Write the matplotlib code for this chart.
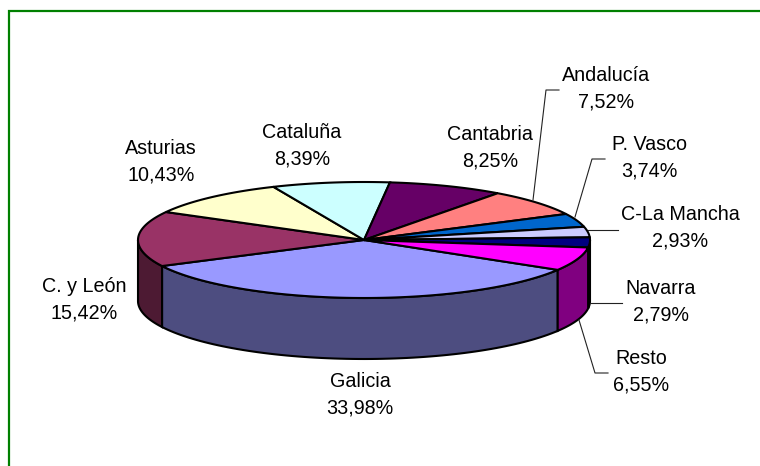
import numpy as np
import matplotlib
matplotlib.use('Agg')
import matplotlib.pyplot as plt

plt.rcParams['font.family'] = ['Liberation Sans', 'DejaVu Sans']

# clockwise order starting at galicia
names = ['Galicia', 'C. y León', 'Asturias', 'Cataluña', 'Cantabria', 'Andalucía',
         'P. Vasco', 'C-La Mancha', 'Navarra', 'Resto']
values = [33.98, 15.42, 10.43, 8.39, 8.25, 7.52, 3.74, 2.93, 2.79, 6.55]
top_colors = ['#9999FF', '#993366', '#FFFFCC', '#CCFFFF', '#660066', '#FF8080',
              '#0066CC', '#CCCCFF', '#000080', '#FF00FF']
side_colors = ['#4D4D80', '#4D1A33', '#808066', '#668080', '#330033', '#804040',
               '#003366', '#666680', '#000040', '#800080']
label_xy = [(360, 394.5), (84, 299.5), (161, 162), (302, 146), (490, 148), (606, 89),
            (649, 158), (680, 228), (661, 302), (641, 372)]
leaders = {
    'Andalucía': ([533, 546, 559], [200, 90, 90]),
    'P. Vasco': ([575, 592, 605], [217, 159, 159]),
    'C-La Mancha': ([588, 618], [230, 230]),
    'Navarra': ([590, 622], [303, 303]),
    'Resto': ([579, 595, 608], [320, 373, 373]),
}

cx, cy, rx, ry = 364, 240, 226, 58
depth = 61
start = -31

fig = plt.figure(figsize=(7.6, 4.66), dpi=100)
ax = fig.add_axes([0, 0, 1, 1])
ax.set_xlim(0, 760)
ax.set_ylim(466, 0)
ax.axis('off')

# green frame, right and bottom edges fall outside the picture
ax.plot([8.5, 8.5, 760], [466, 11, 11], color='#008000', lw=1.6, solid_joinstyle='miter')

fracs = np.array(values) / sum(values) * 360
ends = start - np.cumsum(fracs)
starts = ends + fracs


def rim(a, b):
    t = np.radians(np.linspace(a, b, 80))
    # minus sign because the y axis is flipped
    return cx + rx * np.cos(t), cy - ry * np.sin(t)


# walls, only the front half of the ellipse shows
for a, b, c in zip(starts, ends, side_colors):
    for shift in (0, 360):
        lo = max(b + shift, -180)
        hi = min(a + shift, 0)
        if lo < hi:
            x, y = rim(hi, lo)
            ax.fill(np.r_[x, x[::-1]], np.r_[y, y[::-1] + depth], facecolor=c,
                    edgecolor='black', lw=1.5, joinstyle='miter')

# top surface
for a, b, c in zip(starts, ends, top_colors):
    x, y = rim(a, b)
    ax.fill(np.r_[cx, x], np.r_[cy, y], facecolor=c, edgecolor='black', lw=1.5,
            joinstyle='miter')

for name, (lx, ly) in leaders.items():
    ax.plot(lx, ly, color='#222222', lw=0.8)

for n, v, (tx, ty) in zip(names, values, label_xy):
    txt = n + '\n' + f'{v:.2f}'.replace('.', ',') + '%'
    ax.text(tx, ty, txt, ha='center', va='center', fontsize=14.2, linespacing=1.5,
            color='black')

fig.savefig('out.png', dpi=100)
